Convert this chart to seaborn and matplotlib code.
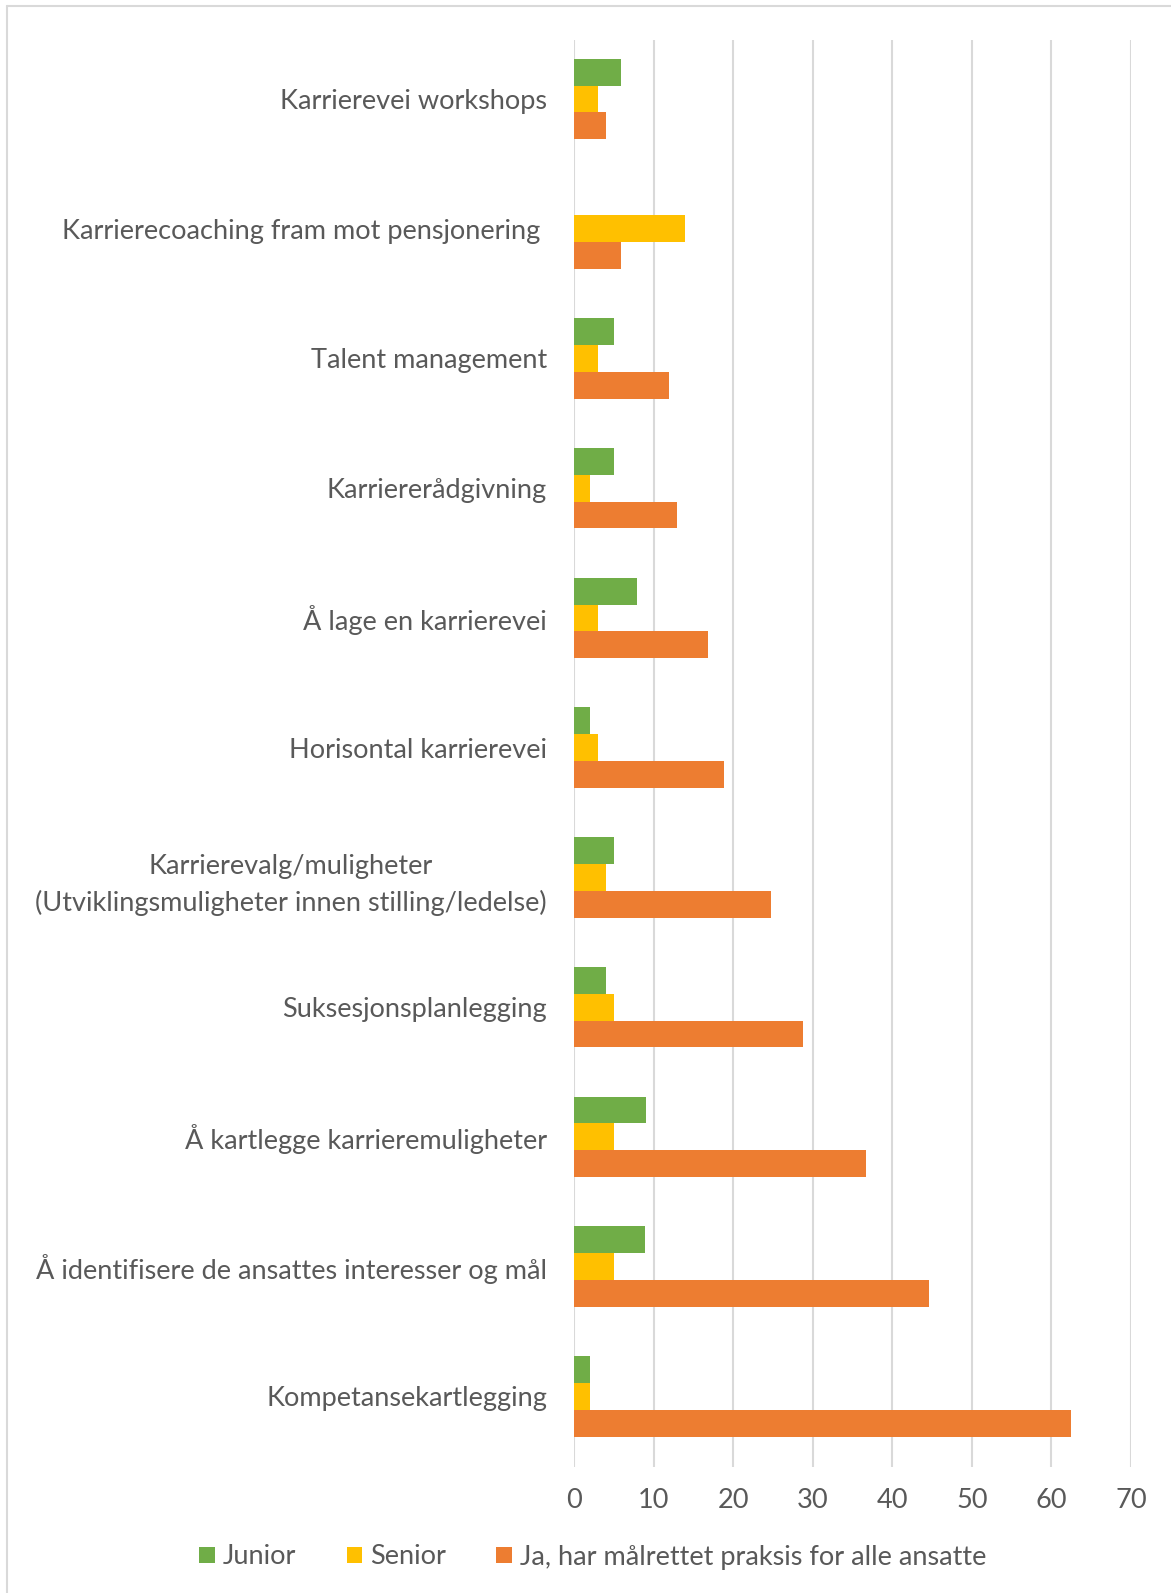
import matplotlib
matplotlib.use("Agg")
import matplotlib.pyplot as plt
import seaborn as sns
import pandas as pd
from matplotlib.patches import Patch
from matplotlib.lines import Line2D

categories = [
    "Karrierevei workshops",
    "Karrierecoaching fram mot pensjonering ",
    "Talent management",
    "Karriererådgivning",
    "Å lage en karrierevei",
    "Horisontal karrierevei",
    "Karrierevalg/muligheter\n(Utviklingsmuligheter innen stilling/ledelse)",
    "Suksesjonsplanlegging",
    "Å kartlegge karrieremuligheter",
    "Å identifisere de ansattes interesser og mål",
    "Kompetansekartlegging",
]
junior = [5.9, 0, 5, 5, 7.9, 2, 5, 4, 9, 8.9, 2]
senior = [3, 13.9, 3, 2, 3, 3, 4, 5, 5, 5, 2]
alle = [4, 5.9, 11.9, 12.9, 16.8, 18.9, 24.8, 28.8, 36.7, 44.6, 62.4]
series_names = ["Junior", "Senior", "Ja, har målrettet praksis for alle ansatte"]
colors = ["#70AD47", "#FFC000", "#ED7D31"]
xticks = [0, 10, 20, 30, 40, 50, 60, 70]

rows = []
for name, vals in zip(series_names, [junior, senior, alle]):
    for c, v in zip(categories, vals):
        rows.append({"Kategori": c, "Serie": name, "Verdi": v})
df = pd.DataFrame(rows)

sns.set_theme(style="white")
plt.rcParams["font.family"] = ["Lato", "DejaVu Sans"]
TXT = "#595959"
FS = 19.5

fig = plt.figure(figsize=(11.71, 15.93), dpi=100)
ax = fig.add_axes([574 / 1171, 1 - 1467 / 1593, (1131 - 574) / 1171, (1467 - 40) / 1593])

sns.barplot(data=df, y="Kategori", x="Verdi", hue="Serie", order=categories,
            hue_order=series_names, palette=colors, orient="h", width=0.62,
            gap=0, ax=ax, legend=False, saturation=1, linewidth=0)

ax.set_xlim(0, 70)
ax.set_ylim(10.5 + 0.045, -0.5 + 0.045)
ax.set_xticks(xticks)
ax.set_xticklabels([str(t) for t in xticks])
ax.set_xlabel("")
ax.set_ylabel("")
ax.grid(axis="x", color="#D9D9D9", linewidth=1.5)
ax.grid(axis="y", visible=False)
ax.set_axisbelow(True)
for s in ax.spines.values():
    s.set_visible(False)
ax.tick_params(axis="x", length=0, pad=15, labelsize=FS, labelcolor=TXT)
ax.tick_params(axis="y", length=0, pad=19.5, labelsize=FS, labelcolor=TXT)
for lab in ax.get_yticklabels():
    lab.set_multialignment("center")
    lab.set_linespacing(1.5)

# outer chart border
fig.add_artist(Line2D([7 / 1171, 7 / 1171], [0, 1 - 6 / 1593], transform=fig.transFigure,
                      color="#D9D9D9", linewidth=1.5))
fig.add_artist(Line2D([7 / 1171, 1], [1 - 6 / 1593, 1 - 6 / 1593], transform=fig.transFigure,
                      color="#D9D9D9", linewidth=1.5))

handles = [Patch(facecolor=c, edgecolor="none") for c in colors]
fig.legend(handles, series_names, loc="center", bbox_to_anchor=(593 / 1171, 1 - 1557 / 1593),
           ncol=3, frameon=False, fontsize=FS, labelcolor=TXT, handlelength=0.58,
           handleheight=0.58, handletextpad=0.3, columnspacing=1.85)

fig.savefig("out.png", dpi=100)
